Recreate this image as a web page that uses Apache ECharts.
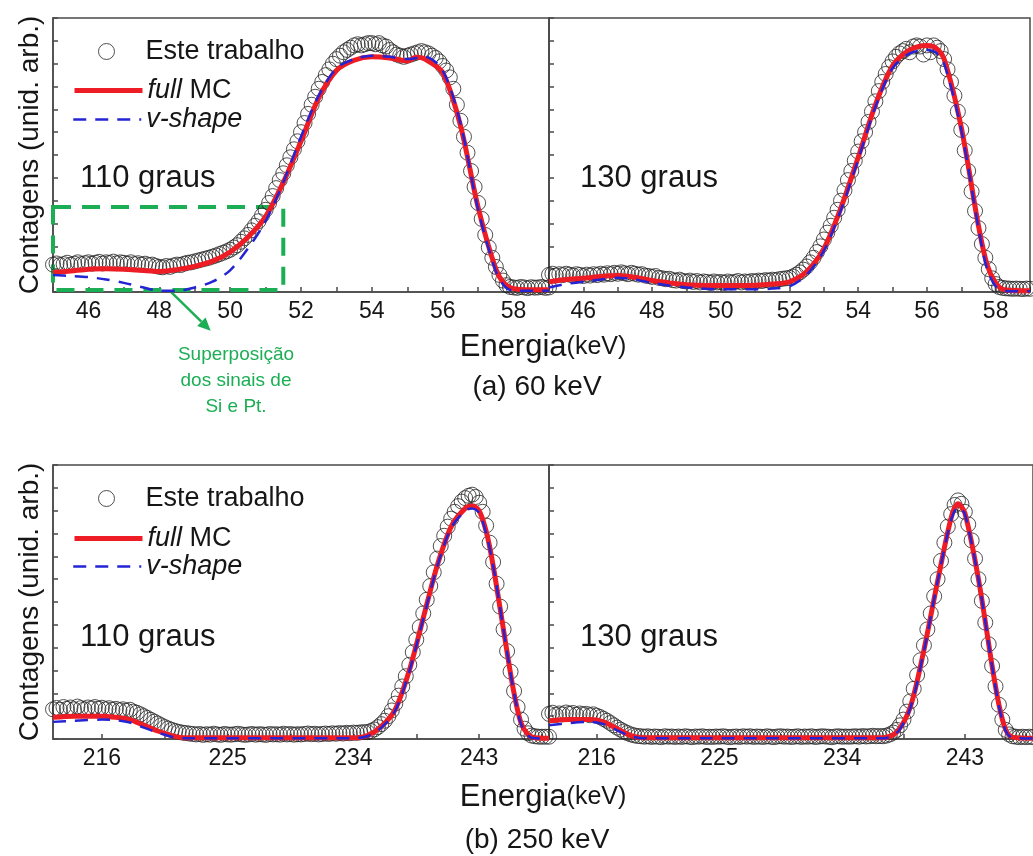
<!DOCTYPE html>
<html>
<head>
<meta charset="utf-8">
<script src="https://cdn.jsdelivr.net/npm/echarts@6/dist/echarts.min.js"></script>
<style>
  html, body { margin: 0; padding: 0; background: #fff; }
  #chart { width: 1033px; height: 856px; }
</style>
</head>
<body>
<div id="chart"></div>
<script>
// canais medidos: energia inicial e passo (keV)
const e60Start = 45, e60Step = 0.1
const e250Start = 212.5, e250Step = 0.25

// (a) 60 keV, 110 graus - Este trabalho
const dados60_110 = [
  1.20, 1.25, 1.18, 1.22, 1.28, 1.20, 1.24, 1.30, 1.22, 1.26,
  1.30, 1.24, 1.28, 1.32, 1.25, 1.30, 1.27, 1.33, 1.26, 1.30,
  1.28, 1.24, 1.30, 1.22, 1.26, 1.20, 1.24, 1.18, 1.20, 1.14,
  1.10, 1.08, 1.14, 1.10, 1.16, 1.20, 1.18, 1.24, 1.28, 1.30,
  1.34, 1.38, 1.42, 1.46, 1.50, 1.55, 1.60, 1.66, 1.72, 1.78,
  1.85, 1.95, 2.05, 2.20, 2.35, 2.50, 2.70, 2.90, 3.10, 3.35,
  3.60, 3.90, 4.20, 4.55, 4.90, 5.20, 5.55, 5.90, 6.25, 6.60,
  7.00, 7.40, 7.80, 8.20, 8.55, 8.90, 9.20, 9.50, 9.75, 10.00,
  10.20, 10.35, 10.50, 10.60, 10.70, 10.80, 10.85, 10.80, 10.85, 10.90,
  10.90, 10.85, 10.90, 10.80, 10.75, 10.60, 10.50, 10.40, 10.35, 10.30,
  10.35, 10.40, 10.45, 10.50, 10.55, 10.50, 10.45, 10.35, 10.25, 10.10,
  9.90, 9.70, 9.40, 8.90, 8.20, 7.50, 6.80, 6.10, 5.30, 4.60,
  3.90, 3.20, 2.50, 1.95, 1.50, 1.10, 0.75, 0.50, 0.30, 0.22,
  0.20, 0.18, 0.22, 0.20, 0.17, 0.21, 0.19, 0.20, 0.22, 0.18,
  0.20
]
const fullMC60_110 = [
  [45, 0.85], [45.5, 0.92], [46, 1.0], [46.5, 1.02], [47, 1.0], [47.5, 0.95], [48, 0.9],
  [48.5, 0.98], [49, 1.12], [49.5, 1.35], [50, 1.75], [50.5, 2.4], [51, 3.3], [51.5, 4.8],
  [52, 6.6], [52.5, 8.5], [53, 9.7], [53.5, 10.15], [54, 10.3], [54.5, 10.25], [55, 10.12],
  [55.25, 10.28], [55.5, 10.2], [56, 9.6], [56.5, 7.3], [57, 3.7], [57.5, 1.0], [57.75, 0.35],
  [58, 0.15], [58.5, 0.1], [59, 0.1]
]
const vshape60_110 = [
  [45, 0.74], [45.5, 0.7], [46, 0.65], [46.5, 0.55], [47, 0.4], [47.5, 0.22], [48, 0.06],
  [48.5, 0.05], [49, 0.2], [49.5, 0.45], [50, 0.95], [50.5, 1.9], [51, 3.1], [51.5, 4.8],
  [52, 6.8], [52.5, 8.6], [53, 9.8], [53.5, 10.2], [54, 10.35], [54.5, 10.3], [55, 10.2],
  [55.5, 10.3], [56, 9.7], [56.5, 7.4], [57, 3.6], [57.5, 0.9], [57.75, 0.25], [58, 0.05], [59, 0.05]
]

// (a) 60 keV, 130 graus
const dados60_130 = [
  0.75, 0.80, 0.72, 0.78, 0.74, 0.80, 0.76, 0.72, 0.78, 0.75,
  0.70, 0.76, 0.72, 0.78, 0.74, 0.80, 0.76, 0.82, 0.78, 0.84,
  0.80, 0.86, 0.82, 0.78, 0.84, 0.80, 0.76, 0.78, 0.72, 0.70,
  0.66, 0.70, 0.62, 0.60, 0.56, 0.58, 0.52, 0.50, 0.54, 0.48,
  0.46, 0.50, 0.44, 0.48, 0.42, 0.46, 0.44, 0.40, 0.46, 0.42,
  0.44, 0.40, 0.46, 0.42, 0.44, 0.48, 0.42, 0.46, 0.44, 0.48,
  0.46, 0.50, 0.48, 0.52, 0.50, 0.54, 0.52, 0.56, 0.58, 0.60,
  0.62, 0.68, 0.76, 0.86, 0.98, 1.12, 1.30, 1.50, 1.75, 2.00,
  2.30, 2.60, 2.90, 3.25, 3.60, 4.00, 4.45, 4.90, 5.30, 5.75,
  6.15, 6.60, 7.00, 7.45, 7.90, 8.35, 8.80, 9.20, 9.55, 9.85,
  10.10, 10.30, 10.45, 10.55, 10.65, 10.50, 10.75, 10.80, 10.75, 10.40,
  10.80, 10.50, 10.80, 10.70, 10.55, 10.20, 9.75, 9.20, 8.60, 7.90,
  7.10, 6.20, 5.30, 4.40, 3.55, 2.80, 2.10, 1.50, 1.00, 0.60,
  0.35, 0.22, 0.18, 0.16, 0.15, 0.14, 0.15, 0.14, 0.13, 0.15,
  0.14
]
const fullMC60_130 = [
  [45, 0.45], [45.5, 0.55], [46, 0.6], [46.5, 0.68], [47, 0.72], [47.5, 0.65], [48, 0.5],
  [48.5, 0.4], [49, 0.32], [50, 0.28], [51, 0.3], [51.5, 0.35], [52, 0.45], [52.5, 0.9],
  [53, 1.9], [53.5, 3.7], [54, 5.9], [54.5, 8.2], [55, 9.9], [55.5, 10.6], [56, 10.8],
  [56.25, 10.7], [56.5, 10.2], [57, 7.2], [57.5, 2.9], [57.75, 1.2], [58, 0.4], [58.25, 0.1], [59, 0.05]
]
const vshape60_130 = [
  [45, 0.2], [45.5, 0.35], [46, 0.45], [46.5, 0.55], [47, 0.62], [47.5, 0.55], [48, 0.4],
  [48.5, 0.28], [49, 0.2], [50, 0.12], [51, 0.12], [51.5, 0.15], [52, 0.25], [52.5, 0.75],
  [53, 1.8], [53.5, 3.6], [54, 5.8], [54.5, 8.1], [55, 9.8], [55.5, 10.45], [56, 10.6],
  [56.25, 10.5], [56.5, 10.0], [57, 7.1], [57.5, 2.8], [57.75, 1.0], [58, 0.25], [58.25, 0.05], [59, 0.03]
]

// (b) 250 keV, 110 graus
const dados250_110 = [
  1.30, 1.36, 1.28, 1.40, 1.32, 1.38, 1.30, 1.42, 1.35, 1.30, 1.38, 1.34,
  1.40, 1.33, 1.37, 1.30, 1.35, 1.28, 1.32, 1.26, 1.30, 1.24, 1.28,
  1.20, 1.15, 1.08, 1.00, 0.92, 0.84, 0.76, 0.68, 0.60, 0.52, 0.46, 0.40,
  0.35, 0.31, 0.28, 0.26, 0.24, 0.22,
  0.20, 0.22, 0.18, 0.21, 0.19, 0.23, 0.20, 0.18, 0.22, 0.20,
  0.19, 0.21, 0.23, 0.20, 0.18, 0.20, 0.22, 0.19, 0.21, 0.20,
  0.18, 0.22, 0.20, 0.21, 0.19, 0.23, 0.20, 0.22, 0.19, 0.21,
  0.20, 0.22, 0.24, 0.21, 0.23, 0.20, 0.22, 0.24, 0.22, 0.25,
  0.23, 0.26, 0.24, 0.27, 0.25, 0.28, 0.27, 0.29, 0.30,
  0.30, 0.35, 0.42, 0.52, 0.65, 0.80, 1.00, 1.25, 1.55, 1.90,
  2.30, 2.75, 3.25, 3.80, 4.35, 4.90, 5.50, 6.10, 6.70, 7.30,
  7.90, 8.45, 8.90, 9.30, 9.65, 9.95, 10.20, 10.40, 10.55, 10.65,
  10.70, 10.60, 10.35, 9.95, 9.35, 8.60, 7.75, 6.80, 5.80, 4.80,
  3.85, 2.95, 2.10, 1.40, 0.85, 0.45, 0.25, 0.15, 0.12, 0.10,
  0.10, 0.10, 0.10
]
const fullMC250_110 = [
  [212.5, 0.95], [214, 1.0], [216, 1.0], [217, 0.95], [218, 0.85], [219, 0.6], [220, 0.35],
  [221, 0.15], [222, 0.05], [234, 0.05], [235, 0.15], [236, 0.55], [237, 1.3], [238, 3.0],
  [239, 5.3], [240, 7.6], [241, 9.3], [242, 10.1], [242.5, 10.2], [243, 10.0], [243.5, 9.1],
  [244, 7.6], [245, 3.8], [245.5, 2.0], [246, 0.7], [246.5, 0.2], [247, 0.05], [248, 0.03]
]
const vshape250_110 = [
  [212.5, 0.75], [214, 0.8], [216, 0.85], [217, 0.82], [218, 0.72], [219, 0.5], [220, 0.28],
  [221, 0.1], [222, 0.03], [234, 0.03], [235, 0.12], [236, 0.5], [237, 1.25], [238, 2.95],
  [239, 5.25], [240, 7.55], [241, 9.25], [242, 10.0], [242.5, 10.1], [243, 9.9], [243.5, 9.0],
  [244, 7.6], [245, 3.8], [245.5, 2.0], [246, 0.65], [246.5, 0.15], [247, 0.03], [248, 0.02]
]

// (b) 250 keV, 130 graus
const dados250_130 = [
  1.10, 1.15, 1.05, 1.12, 1.08, 1.16, 1.10, 1.14, 1.06, 1.12, 1.08, 1.10, 1.04, 1.08,
  1.02, 0.96, 0.88, 0.80, 0.70, 0.60, 0.50, 0.41, 0.33, 0.26, 0.20, 0.16, 0.13, 0.12,
  0.10, 0.12, 0.09, 0.11, 0.10, 0.08, 0.12, 0.10, 0.11, 0.09,
  0.11, 0.09, 0.12, 0.10, 0.08, 0.11, 0.10, 0.12, 0.09, 0.10,
  0.09, 0.11, 0.10, 0.12, 0.10, 0.08, 0.10, 0.11, 0.09, 0.12,
  0.10, 0.12, 0.09, 0.11, 0.10, 0.09, 0.12, 0.10, 0.08, 0.11,
  0.12, 0.10, 0.11, 0.09, 0.10, 0.12, 0.09, 0.11, 0.10, 0.12,
  0.09, 0.10, 0.12, 0.11, 0.10, 0.08, 0.11, 0.12, 0.10, 0.11,
  0.10, 0.11, 0.12, 0.10, 0.13, 0.11, 0.12, 0.14, 0.12, 0.13,
  0.12, 0.15,
  0.20, 0.28, 0.40, 0.60, 0.85, 1.20, 1.65, 2.20, 2.80, 3.45,
  4.10, 4.80, 5.50, 6.25, 7.00, 7.80, 8.60, 9.30, 9.85, 10.25,
  10.45, 10.30, 9.95, 9.40, 8.70, 7.90, 7.00, 6.05, 5.10, 4.15,
  3.20, 2.30, 1.50, 0.85, 0.40, 0.20, 0.12, 0.10, 0.08, 0.10,
  0.08, 0.10, 0.08
]
const fullMC250_130 = [
  [212.5, 0.8], [214, 0.85], [215.5, 0.85], [216.5, 0.75], [217.5, 0.45], [218.5, 0.15],
  [219.5, 0.05], [237, 0.05], [238, 0.3], [239, 1.4], [240, 3.9], [241, 6.9], [242, 9.7],
  [242.5, 10.3], [243, 9.9], [244, 7.0], [245, 3.2], [245.5, 1.5], [246, 0.4], [246.5, 0.08], [248, 0.03]
]
const vshape250_130 = [
  [212.5, 0.6], [214, 0.7], [215.5, 0.75], [216.5, 0.65], [217.5, 0.38], [218.5, 0.12],
  [219.5, 0.03], [237, 0.03], [238, 0.25], [239, 1.35], [240, 3.85], [241, 6.9], [242, 9.6],
  [242.5, 10.15], [243, 9.85], [244, 7.0], [245, 3.2], [245.5, 1.45], [246, 0.35], [246.5, 0.05], [248, 0.02]
]

// eixos
const labels60 = [46, 48, 50, 52, 54, 56, 58]
const labels250 = [216, 225, 234, 243]
const ticks250 = [216, 220.5, 225, 229.5, 234, 238.5, 243, 247.5]

const FONT = '"Liberation Sans", Arial, sans-serif'
const INK = '#161616'
const FRAME = '#4a4a4a'
const RED = '#ee1c24'
const BLUE = '#2424d4'
const GREEN = '#1cae55'

const chart = echarts.init(document.getElementById('chart'))

const grids = [
  { left: 53, top: 18 }, { left: 549, top: 18 },
  { left: 53, top: 465 }, { left: 549, top: 465 }
].map(g => Object.assign(g, { width: 496, height: 274, show: true, borderColor: FRAME, borderWidth: 1.5 }))

const lineSt = { color: FRAME, width: 1.5 }
const labelSt = { fontSize: 23, color: INK, fontFamily: FONT, margin: 8 }

function eixoX60(gi) {
  return {
    gridIndex: gi, type: 'value', min: 45, max: 59, interval: 1,
    axisLine: { onZero: false, lineStyle: lineSt },
    axisTick: { inside: true, length: 5, lineStyle: lineSt },
    axisLabel: Object.assign({ formatter: v => labels60.includes(v) ? String(v) : '' }, labelSt),
    splitLine: { show: false }
  }
}
function eixoX250(gi) {
  return {
    gridIndex: gi, type: 'value', min: 212.5, max: 248,
    axisLine: { onZero: false, lineStyle: lineSt },
    axisTick: { inside: true, length: 5, lineStyle: lineSt, customValues: ticks250 },
    axisLabel: Object.assign({ customValues: labels250 }, labelSt),
    splitLine: { show: false }
  }
}
function eixoY(gi, comNome) {
  return {
    gridIndex: gi, type: 'value', min: 0, max: 12, interval: 1,
    name: comNome ? 'Contagens (unid. arb.)' : '',
    nameLocation: 'middle', nameGap: 9,
    nameTextStyle: { fontSize: 28, color: INK, fontFamily: FONT },
    axisLine: { onZero: false, lineStyle: lineSt },
    axisTick: { inside: true, length: 5, lineStyle: lineSt },
    axisLabel: { show: false },
    splitLine: { show: false }
  }
}

function painel(gi, dados, start, step, full, vshape) {
  return [
    {
      type: 'scatter', name: 'Este trabalho', xAxisIndex: gi, yAxisIndex: gi,
      data: dados.map((v, k) => [start + k * step, v]),
      symbol: 'circle', symbolSize: 15, silent: true,
      itemStyle: { color: 'rgba(0,0,0,0)', borderColor: '#262626', borderWidth: 1 }
    },
    {
      type: 'line', name: 'full MC', xAxisIndex: gi, yAxisIndex: gi, data: full,
      symbol: 'none', smooth: 0.3, silent: true,
      lineStyle: { color: RED, width: 5 }, itemStyle: { color: RED }
    },
    {
      type: 'line', name: 'v-shape', xAxisIndex: gi, yAxisIndex: gi, data: vshape,
      symbol: 'none', smooth: 0.3, silent: true,
      lineStyle: { color: BLUE, width: 2.5, type: [13, 9] }, itemStyle: { color: BLUE }
    }
  ]
}

const series = [
  ...painel(0, dados60_110, e60Start, e60Step, fullMC60_110, vshape60_110),
  ...painel(1, dados60_130, e60Start, e60Step, fullMC60_130, vshape60_130),
  ...painel(2, dados250_110, e250Start, e250Step, fullMC250_110, vshape250_110),
  ...painel(3, dados250_130, e250Start, e250Step, fullMC250_130, vshape250_130)
]
// caixa verde: superposicao dos sinais de Si e Pt
series[0].markArea = {
  silent: true, label: { show: false },
  itemStyle: { color: 'rgba(0,0,0,0)', borderColor: GREEN, borderWidth: 4, borderType: [18, 11] },
  data: [[{ coord: [45, 3.72] }, { coord: [51.5, 0.09] }]]
}

const legTxt = { fontSize: 27, color: INK, fontFamily: FONT, rich: { i: { fontSize: 27, color: INK, fontFamily: FONT, fontStyle: 'italic' } } }
function legenda(nome, cy, alto, x, linha) {
  return {
    data: [nome], left: x, top: cy - alto / 2, padding: 0,
    itemWidth: 68, itemHeight: alto, selectedMode: false,
    textStyle: legTxt,
    itemStyle: linha ? { opacity: 0 } : { borderWidth: 1 },
    lineStyle: { width: 'inherit' },
    formatter: n => n === 'full MC' ? '{i|full} MC' : n === 'v-shape' ? '{i|v-shape}' : n
  }
}
const legend = []
;[[46, 82, 111], [493, 530, 558]].forEach(r => {
  legend.push(
    legenda('Este trabalho', r[0], 16, 98, false),
    legenda('full MC', r[1], 10, 72, true),
    legenda('v-shape', r[2], 10, 72, true)
  )
})

function texto(txt, x, y, size, extra) {
  return {
    type: 'text', x: x, y: y, silent: true,
    style: Object.assign({
      text: txt, fill: INK, font: size + 'px ' + FONT,
      textAlign: 'left', textVerticalAlign: 'middle'
    }, extra || {})
  }
}
const rotuloE = {
  textAlign: 'center',
  rich: {
    a: { fontSize: 31, fontFamily: FONT, fill: INK, color: INK },
    b: { fontSize: 25, fontFamily: FONT, fill: INK, color: INK }
  }
}
const graphic = [
  texto('110 graus', 80, 178, 31), texto('130 graus', 580, 178, 31),
  texto('110 graus', 80, 637, 31), texto('130 graus', 580, 637, 31),
  texto('{a|Energia}{b|(keV)}', 543, 347, 31, rotuloE),
  texto('{a|Energia}{b|(keV)}', 543, 797, 31, rotuloE),
  texto('(a) 60 keV', 537, 387, 28, { textAlign: 'center' }),
  texto('(b) 250 keV', 537, 840, 28, { textAlign: 'center' }),
  texto('Superposição\ndos sinais de\nSi e Pt.', 236, 381, 19, { textAlign: 'center', fill: GREEN, lineHeight: 26 })
]

chart.setOption({
  animation: false,
  backgroundColor: '#fff',
  grid: grids,
  xAxis: [eixoX60(0), eixoX60(1), eixoX250(2), eixoX250(3)],
  yAxis: [eixoY(0, true), eixoY(1, false), eixoY(2, true), eixoY(3, false)],
  legend: legend,
  series: series,
  graphic: graphic
})

// seta verde, ancorada nas coordenadas do painel (a) 110 graus
const p0 = chart.convertToPixel({ gridIndex: 0 }, [48.3, 0.05])
const p1 = chart.convertToPixel({ gridIndex: 0 }, [49.45, -1.7])
const dx = p1[0] - p0[0], dy = p1[1] - p0[1], len = Math.hypot(dx, dy)
const ux = dx / len, uy = dy / len
const hb = [p1[0] - ux * 13, p1[1] - uy * 13]
chart.setOption({
  graphic: graphic.concat([
    { type: 'line', silent: true, shape: { x1: p0[0], y1: p0[1], x2: hb[0], y2: hb[1] }, style: { stroke: GREEN, lineWidth: 2.5 } },
    { type: 'polygon', silent: true, shape: { points: [p1, [hb[0] - uy * 6, hb[1] + ux * 6], [hb[0] + uy * 6, hb[1] - ux * 6]] }, style: { fill: GREEN } }
  ])
})
</script>
</body>
</html>
